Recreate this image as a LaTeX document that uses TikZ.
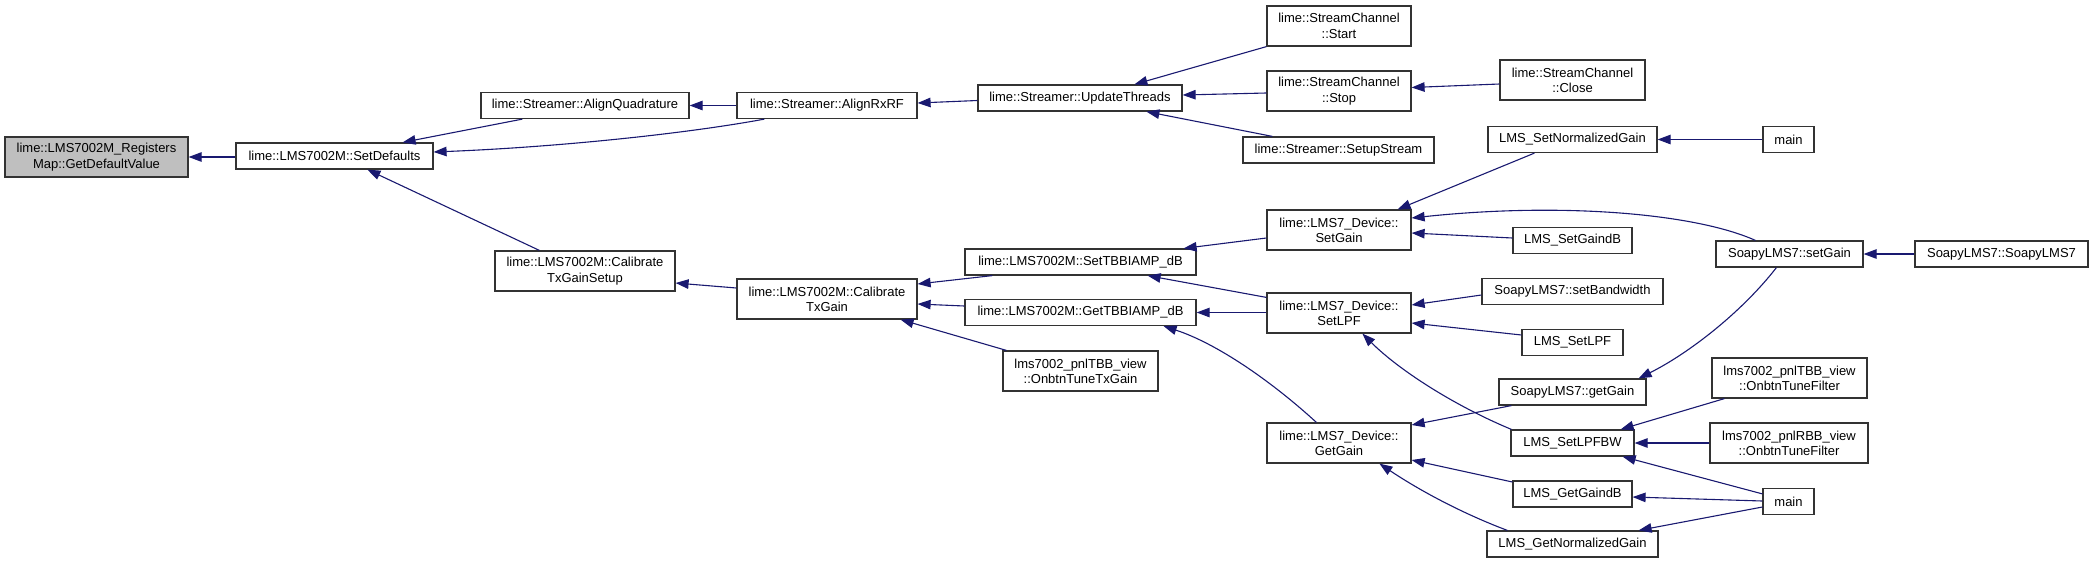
\documentclass[tikz,border=0pt]{standalone}
\usepackage{fontspec}
\setmainfont{Liberation Sans}
\usetikzlibrary{arrows.meta,calc}
\definecolor{edgecol}{HTML}{191970}
\definecolor{boxline}{HTML}{333333}
\definecolor{rootfill}{HTML}{BFBFBF}
\begin{document}
\begin{tikzpicture}[x=1pt,y=-1pt,
  fn/.style={draw=boxline, line width=1.2pt, fill=white, inner sep=0pt, align=center,
    font=\fontsize{13}{15.3}\selectfont, text=black},
  one/.style={minimum height=26pt},
  two/.style={minimum height=40pt},
  call/.style={draw=edgecol, line width=1.1pt, -{Triangle[length=13pt,width=9.5pt]}, fill=none}]
\useasboundingbox (0,0) rectangle (2093,563);
% column 0
\node[fn, two, fill=rootfill, minimum width=183pt] (gdv) at (96.5,157) {lime::LMS7002M\_Registers\\Map::GetDefaultValue};
% column 1
\node[fn, one, minimum width=197pt] (sd) at (334.5,156) {lime::LMS7002M::SetDefaults};
% column 2
\node[fn, one, minimum width=208pt] (aq) at (585,105.5) {lime::Streamer::AlignQuadrature};
\node[fn, two, minimum width=180pt] (ctgs) at (585,271) {lime::LMS7002M::Calibrate\\TxGainSetup};
% column 3
\node[fn, one, minimum width=180pt] (arx) at (827,105.5) {lime::Streamer::AlignRxRF};
\node[fn, two, minimum width=180pt] (ctg) at (827,299) {lime::LMS7002M::Calibrate\\TxGain};
% column 4
\node[fn, one, minimum width=204pt] (ut) at (1080,98) {lime::Streamer::UpdateThreads};
\node[fn, one, minimum width=231pt] (stb) at (1080.5,262) {lime::LMS7002M::SetTBBIAMP\_dB};
\node[fn, one, minimum width=231pt] (gtb) at (1080.5,312.5) {lime::LMS7002M::GetTBBIAMP\_dB};
\node[fn, two, minimum width=155pt] (tbbtx) at (1080.5,371) {lms7002\_pnlTBB\_view\\::OnbtnTuneTxGain};
% column 5
\node[fn, two, minimum width=144pt] (start) at (1339,26) {lime::StreamChannel\\::Start};
\node[fn, two, minimum width=144pt] (stop) at (1339,91) {lime::StreamChannel\\::Stop};
\node[fn, one, minimum width=191pt] (ss) at (1338.5,150) {lime::Streamer::SetupStream};
\node[fn, two, minimum width=144pt] (setgain) at (1339,230) {lime::LMS7\_Device::\\SetGain};
\node[fn, two, minimum width=144pt] (setlpf) at (1339,313) {lime::LMS7\_Device::\\SetLPF};
\node[fn, two, minimum width=144pt] (getgain) at (1339,443) {lime::LMS7\_Device::\\GetGain};
% column 6
\node[fn, two, minimum width=145pt] (close) at (1572.5,80) {lime::StreamChannel\\::Close};
\node[fn, one, minimum width=169pt] (sng) at (1572.5,139.5) {LMS\_SetNormalizedGain};
\node[fn, one, minimum width=119pt] (sgdb) at (1572.5,240.5) {LMS\_SetGaindB};
\node[fn, one, minimum width=181pt] (sbw) at (1572.5,291.5) {SoapyLMS7::setBandwidth};
\node[fn, one, minimum width=101pt] (slpf) at (1572.5,342.5) {LMS\_SetLPF};
\node[fn, one, minimum width=147pt] (gg) at (1572.5,392) {SoapyLMS7::getGain};
\node[fn, one, minimum width=123pt] (slpfbw) at (1572.5,443) {LMS\_SetLPFBW};
\node[fn, one, minimum width=119pt] (ggdb) at (1572.5,494) {LMS\_GetGaindB};
\node[fn, one, minimum width=171pt] (gng) at (1572.5,544) {LMS\_GetNormalizedGain};
% column 7
\node[fn, one, minimum width=51pt] (main1) at (1788.5,139.5) {main};
\node[fn, one, minimum width=147pt] (sg7) at (1789.5,254) {SoapyLMS7::setGain};
\node[fn, two, minimum width=155pt] (tbbf) at (1789.5,378) {lms7002\_pnlTBB\_view\\::OnbtnTuneFilter};
\node[fn, two, minimum width=158pt] (rbbf) at (1789,443) {lms7002\_pnlRBB\_view\\::OnbtnTuneFilter};
\node[fn, one, minimum width=51pt] (main2) at (1788.5,501.5) {main};
% column 8
\node[fn, one, minimum width=173pt] (soapy) at (2001.5,254) {SoapyLMS7::SoapyLMS7};

% edges (arrow at the called function)
\draw[call] (gdv.east -| sd.west) -- (gdv.east);
\draw[call] ($(aq.south west)+(42,0)$) -- ($(sd.north east)+(-31,0)$);
\draw[call] ($(arx.south west)+(28,0)$) .. controls ($(arx.south west)+(-47,14)$) and ($(sd.east)+(127,-9)$) .. ($(sd.east)+(0,-4)$);
\draw[call] ($(ctgs.north west)+(45,0)$) -- ($(sd.south west)+(132,0)$);
\draw[call] (arx.west) -- (aq.east);
\draw[call] ($(ut.west)+(0,2.5)$) -- ($(arx.east)+(0,-2.5)$);
\draw[call] ($(ctg.west)+(0,-11)$) -- ($(ctgs.east)+(0,12)$);
\draw[call] ($(stb.south west)+(28,0)$) -- ($(ctg.east)+(0,-15)$);
\draw[call] ($(gtb.west)+(0,-6.5)$) -- ($(ctg.east)+(0,5)$);
\draw[call] ($(tbbtx.north west)+(4,0)$) -- ($(ctg.south east)+(-17,0)$);
\draw[call] (start.south west) -- ($(ut.north west)+(157,0)$);
\draw[call] ($(stop.west)+(0,2)$) -- ($(ut.east)+(0,-3)$);
\draw[call] ($(ss.north west)+(30,0)$) -- ($(ut.south west)+(169,0)$);
\draw[call] ($(close.west)+(0,4)$) -- ($(stop.east)+(0,-3.5)$);
\draw[call] ($(setgain.west)+(0,8)$) -- ($(stb.north east)+(-13,0)$);
\draw[call] ($(setlpf.north west)+(0,5)$) -- ($(stb.south east)+(-49,0)$);
\draw[call] (gtb.east -| setlpf.west) -- (gtb.east);
\draw[call] ($(getgain.north west)+(50,0)$) .. controls ($(getgain.north west)+(3,-43)$) and ($(gtb.south east)+(19,17)$) .. ($(gtb.south east)+(-33,0)$);
\draw[call] ($(sng.south west)+(47,0)$) -- ($(setgain.north east)+(-14,0)$);
\draw[call] ($(sg7.north west)+(40,0)$) .. controls ($(sg7.north west)+(-20,-27)$) and ($(setgain.east)+(150,-28)$) .. ($(setgain.east)+(0,-12)$);
\draw[call] ($(sgdb.west)+(0,-2.5)$) -- ($(setgain.east)+(0,3)$);
\draw[call] ($(sbw.west)+(0,3.5)$) -- ($(setlpf.east)+(0,-8)$);
\draw[call] ($(slpf.west)+(0,-7.5)$) -- ($(setlpf.east)+(0,10)$);
\draw[call] ($(slpfbw.north west)+(1,0)$) .. controls ($(slpfbw.north west)+(-59,-25)$) and ($(setlpf.south west)+(131,35)$) .. ($(setlpf.south west)+(96,0)$);
\draw[call] ($(gg.south west)+(13,0)$) -- ($(getgain.east)+(0,-18)$);
\draw[call] ($(ggdb.west)+(0,-12)$) -- ($(getgain.east)+(0,17)$);
\draw[call] ($(gng.north west)+(21,0)$) .. controls ($(gng.north west)+(-19,-15)$) and ($(getgain.south west)+(158,30)$) .. ($(getgain.south west)+(113,0)$);
\draw[call] (main1.west) -- (sng.east);
\draw[call] (soapy.west) -- (sg7.east);
\draw[call] ($(sg7.south west)+(61,0)$) .. controls ($(sg7.south west)+(26,45)$) and ($(gg.north east)+(42,-25)$) .. ($(gg.north east)+(-8,0)$);
\draw[call] ($(tbbf.south west)+(13,0)$) -- ($(slpfbw.north east)+(-14,0)$);
\draw[call] (rbbf.west) -- (slpfbw.east);
\draw[call] ($(main2.north west)+(0,6)$) -- ($(slpfbw.south east)+(-12,0)$);
\draw[call] ($(main2.west)+(0,-0.5)$) -- ($(ggdb.east)+(0,3)$);
\draw[call] ($(main2.west)+(0,5.5)$) -- ($(gng.north east)+(-20,0)$);
\end{tikzpicture}
\end{document}
